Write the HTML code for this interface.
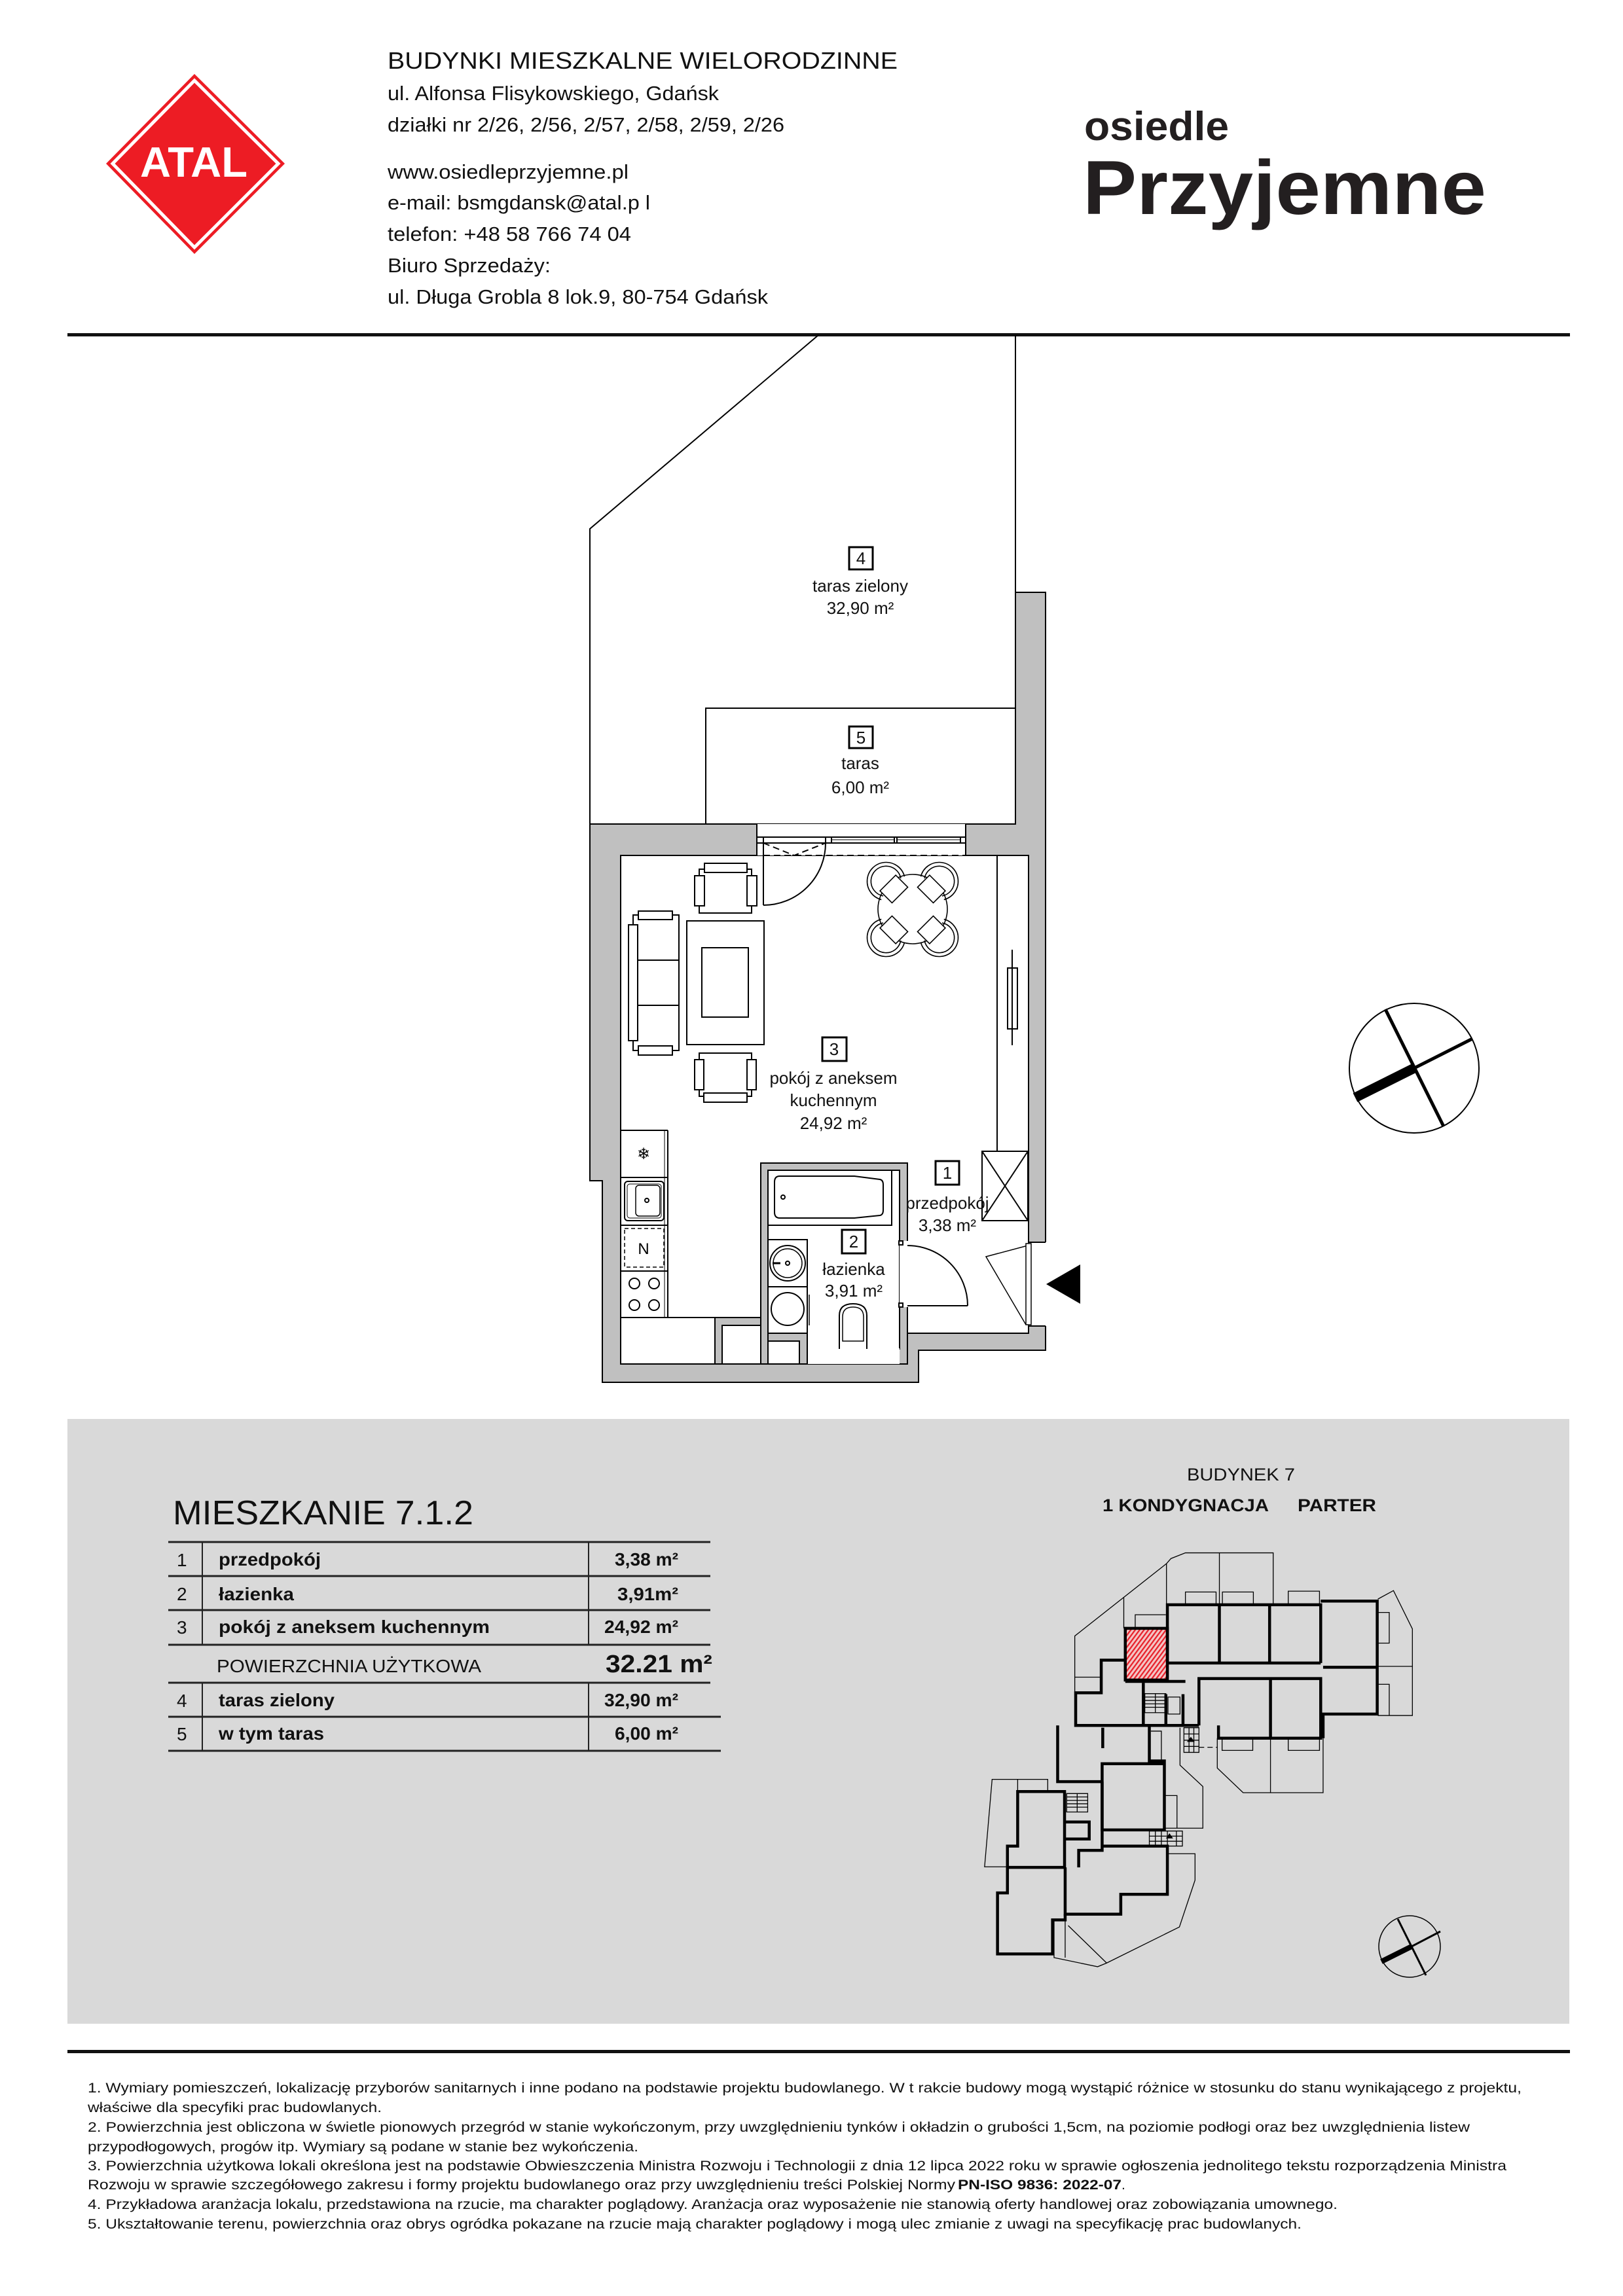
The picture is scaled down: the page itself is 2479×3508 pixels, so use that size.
<!DOCTYPE html>
<html><head><meta charset="utf-8"><style>html,body{margin:0;padding:0;background:#fff}svg{display:block}</style></head>
<body>
<svg xmlns="http://www.w3.org/2000/svg" width="2479" height="3508" viewBox="0 0 2479 3508" font-family="'Liberation Sans', Arial, sans-serif">
<defs>
<pattern id="hatch" patternUnits="userSpaceOnUse" width="12" height="12" patternTransform="rotate(35)">
<rect width="12" height="12" fill="#f3c6c6"/><rect width="5" height="12" fill="#e8202a"/>
</pattern>
</defs>
<rect width="2479" height="3508" fill="#fff"/>

<!-- ATAL logo -->
<polygon points="297,113 435,250 297,388 162,250" fill="#ed1c24"/>
<polygon points="297,123 425,250 297,378 172,250" fill="none" stroke="#fff" stroke-width="5"/>
<text x="296" y="270" text-anchor="middle" font-size="65" font-weight="bold" fill="#fff" textLength="164" lengthAdjust="spacingAndGlyphs">ATAL</text>

<!-- header text -->
<g fill="#111">
<text x="592" y="105" font-size="36" textLength="779" lengthAdjust="spacingAndGlyphs">BUDYNKI MIESZKALNE WIELORODZINNE</text>
<text x="592" y="153" font-size="31" textLength="506" lengthAdjust="spacingAndGlyphs">ul. Alfonsa Flisykowskiego, Gdańsk</text>
<text x="592" y="201" font-size="31" textLength="606" lengthAdjust="spacingAndGlyphs">działki nr 2/26, 2/56, 2/57, 2/58, 2/59, 2/26</text>
<text x="592" y="273" font-size="31" textLength="368" lengthAdjust="spacingAndGlyphs">www.osiedleprzyjemne.pl</text>
<text x="592" y="320" font-size="31" textLength="401" lengthAdjust="spacingAndGlyphs">e-mail: bsmgdansk@atal.p l</text>
<text x="592" y="368" font-size="31" textLength="372" lengthAdjust="spacingAndGlyphs">telefon: +48 58 766 74 04</text>
<text x="592" y="416" font-size="31" textLength="249" lengthAdjust="spacingAndGlyphs">Biuro Sprzedaży:</text>
<text x="592" y="464" font-size="31" textLength="581" lengthAdjust="spacingAndGlyphs">ul. Długa Grobla 8 lok.9, 80-754 Gdańsk</text>
</g>
<text x="1656" y="214" font-size="62" font-weight="bold" fill="#231f20" textLength="221" lengthAdjust="spacingAndGlyphs">osiedle</text>
<text x="1654" y="327" font-size="117" font-weight="bold" fill="#231f20" textLength="616" lengthAdjust="spacingAndGlyphs">Przyjemne</text>

<rect x="103" y="509" width="2295" height="5" fill="#111"/>

<!-- ================= PLAN ================= -->
<g stroke="#000" stroke-width="2" fill="none">
<polyline points="901,1259 901,808 1250,512"/>
<line x1="1551" y1="512" x2="1551" y2="905"/>
<polyline points="1078,1259 1078,1082 1551,1082"/>
</g>
<!-- walls -->
<polygon points="901,1259 1551,1259 1551,905 1597,905 1597,2063 1403,2063 1403,2112 920,2112 920,1804 901,1804" fill="#c0c0c0" stroke="#000" stroke-width="2"/>
<polygon points="948,1307 1571,1307 1571,2037 1386,2037 1386,2084 948,2084" fill="#fff" stroke="#000" stroke-width="2"/>
<rect x="1156" y="1259" width="319" height="48" fill="#fff"/>
<line x1="1156" y1="1259" x2="1156" y2="1307" stroke="#000" stroke-width="2"/>
<line x1="1475" y1="1259" x2="1475" y2="1307" stroke="#000" stroke-width="2"/>
<rect x="1571" y="1898" width="27" height="128" fill="#fff"/>
<line x1="1571" y1="2026" x2="1597" y2="2026" stroke="#000" stroke-width="2"/>
<line x1="1571" y1="1898" x2="1597" y2="1898" stroke="#000" stroke-width="2"/>
<!-- bathroom walls -->
<rect x="1162" y="1777" width="224" height="307" fill="#c0c0c0" stroke="#000" stroke-width="2"/>
<rect x="1173" y="1788" width="201" height="273" fill="#fff" stroke="#000" stroke-width="2"/>
<rect x="1233" y="2060" width="141" height="24" fill="#fff"/>
<rect x="1374" y="1896" width="13" height="101" fill="#fff"/>
<g stroke="#000" stroke-width="2" fill="#fff">
<rect x="1373" y="1896" width="6" height="6"/><rect x="1373" y="1991" width="6" height="6"/>
</g>
<!-- shaft -->
<rect x="1092" y="2013" width="70" height="71" fill="#c0c0c0" stroke="#000" stroke-width="2"/>
<rect x="1103" y="2025" width="59" height="59" fill="#fff" stroke="#000" stroke-width="2"/>
<rect x="1173" y="2037" width="60" height="47" fill="#c0c0c0" stroke="#000" stroke-width="2"/>
<rect x="1173" y="2049" width="48" height="35" fill="#fff" stroke="#000" stroke-width="2"/>

<!-- window -->
<g stroke="#000" stroke-width="2" fill="none">
<line x1="1156" y1="1279" x2="1475" y2="1279"/>
<line x1="1156" y1="1288" x2="1475" y2="1288"/>
<line x1="1270" y1="1283" x2="1366" y2="1283" stroke-width="1"/>
<line x1="1370" y1="1283" x2="1467" y2="1283" stroke-width="1"/>
<line x1="1166" y1="1279" x2="1166" y2="1383"/>
<line x1="1261" y1="1279" x2="1261" y2="1288"/>
<line x1="1270" y1="1279" x2="1270" y2="1288"/>
<line x1="1366" y1="1279" x2="1366" y2="1288"/>
<line x1="1370" y1="1279" x2="1370" y2="1288"/>
<line x1="1467" y1="1279" x2="1467" y2="1288"/>
<path d="M1166,1383 A95,95 0 0 0 1261,1288"/>
<line x1="1166" y1="1307" x2="1475" y2="1307" stroke-dasharray="10,6"/>
<polyline points="1166,1288 1213,1307 1261,1288" stroke-dasharray="10,6"/>
</g>

<!-- furniture -->
<g stroke="#000" stroke-width="2" fill="#fff">
<rect x="1068" y="1328" width="80" height="67"/>
<rect x="1076" y="1319" width="65" height="14"/>
<rect x="1061" y="1338" width="15" height="46"/>
<rect x="1141" y="1338" width="15" height="46"/>
<rect x="967" y="1398" width="70" height="207"/>
<rect x="960" y="1413" width="14" height="177"/>
<rect x="975" y="1392" width="52" height="13"/>
<rect x="975" y="1598" width="52" height="14"/>
<line x1="974" y1="1467" x2="1037" y2="1467"/>
<line x1="974" y1="1536" x2="1037" y2="1536"/>
<rect x="1049" y="1407" width="118" height="189"/>
<rect x="1072" y="1448" width="71" height="106"/>
<rect x="1068" y="1609" width="80" height="66"/>
<rect x="1075" y="1670" width="66" height="14"/>
<rect x="1061" y="1619" width="14" height="46"/>
<rect x="1141" y="1619" width="14" height="46"/>
</g>
<!-- round table + chairs -->
<g stroke="#000" stroke-width="1.6" fill="none">
<circle cx="1394" cy="1389" r="53"/>
<g transform="translate(1354,1347) rotate(45)"><path d="M14,-25 A29,29 0 1 0 14,25"/><path d="M12,-19 A23,23 0 1 0 12,19"/><rect x="3" y="-17" width="26" height="34" fill="#fff"/></g>
<g transform="translate(1434,1347) rotate(135)"><path d="M14,-25 A29,29 0 1 0 14,25"/><path d="M12,-19 A23,23 0 1 0 12,19"/><rect x="3" y="-17" width="26" height="34" fill="#fff"/></g>
<g transform="translate(1434,1432) rotate(225)"><path d="M14,-25 A29,29 0 1 0 14,25"/><path d="M12,-19 A23,23 0 1 0 12,19"/><rect x="3" y="-17" width="26" height="34" fill="#fff"/></g>
<g transform="translate(1354,1432) rotate(315)"><path d="M14,-25 A29,29 0 1 0 14,25"/><path d="M12,-19 A23,23 0 1 0 12,19"/><rect x="3" y="-17" width="26" height="34" fill="#fff"/></g>
</g>
<!-- wardrobe, closet -->
<g stroke="#000" stroke-width="2" fill="none">
<line x1="1523" y1="1307" x2="1523" y2="1759"/>
<rect x="1539" y="1479" width="15" height="93" fill="#fff"/>
<line x1="1546" y1="1451" x2="1546" y2="1597"/>
<rect x="1500" y="1759" width="70" height="106"/>
<line x1="1500" y1="1759" x2="1570" y2="1865"/>
<line x1="1570" y1="1759" x2="1500" y2="1865"/>
</g>
<!-- kitchen -->
<g stroke="#000" stroke-width="2" fill="none">
<line x1="1020" y1="1727" x2="1020" y2="2013"/>
<line x1="1015" y1="1727" x2="1015" y2="2013" stroke-width="1"/>
<line x1="948" y1="1727" x2="1020" y2="1727"/>
<line x1="948" y1="1799" x2="1020" y2="1799"/>
<line x1="948" y1="1872" x2="1020" y2="1872"/>
<line x1="948" y1="1942" x2="1020" y2="1942"/>
<line x1="948" y1="2013" x2="1020" y2="2013"/>
<line x1="948" y1="2013" x2="1092" y2="2013"/>
<rect x="954" y="1805" width="60" height="60" rx="5"/>
<rect x="958" y="1809" width="52" height="52" rx="4" stroke-width="1"/>
<rect x="971" y="1811" width="37" height="47" rx="5" stroke-width="1.5"/>
<circle cx="988" cy="1834" r="3"/>
<rect x="954" y="1877" width="60" height="59" stroke-dasharray="6,4" stroke-width="1.5"/>
<circle cx="969" cy="1961" r="8"/><circle cx="999" cy="1961" r="8"/>
<circle cx="969" cy="1994" r="8"/><circle cx="999" cy="1994" r="8"/>
</g>
<text x="983" y="1771" font-size="24" text-anchor="middle">❄</text>
<text x="983" y="1916" font-size="24" text-anchor="middle">N</text>
<!-- bathroom fixtures -->
<g stroke="#000" stroke-width="2" fill="none">
<rect x="1173" y="1788" width="189" height="84"/>
<path d="M1191,1797 L1305,1797 L1344,1802 Q1349,1803 1349,1810 L1349,1849 Q1349,1856 1344,1857 L1305,1861 L1191,1861 Q1183,1861 1183,1852 L1183,1806 Q1183,1797 1191,1797 Z"/>
<circle cx="1196" cy="1829" r="3"/>
<rect x="1173" y="1894" width="60" height="72"/>
<circle cx="1203" cy="1930" r="27"/>
<circle cx="1203" cy="1930" r="22" stroke-width="1.5"/>
<circle cx="1203" cy="1930" r="3"/>
<line x1="1180" y1="1930" x2="1192" y2="1930" stroke-width="3"/>
<rect x="1173" y="1966" width="60" height="71"/>
<circle cx="1203" cy="2000" r="25"/>
<line x1="1236" y1="1978" x2="1236" y2="2025" stroke-width="1.5"/>
<path d="M1282,2061 L1282,2010 Q1282,1992 1303,1992 Q1324,1992 1324,2010 L1324,2061"/>
<path d="M1287,2049 L1287,2012 Q1287,1997 1303,1997 Q1319,1997 1319,2012 L1319,2049 Z" stroke-width="1.5"/>
<path d="M1386,1903 A92,92 0 0 1 1478,1995"/>
<line x1="1386" y1="1995" x2="1478" y2="1995"/>
<polyline points="1570,1903 1506,1920 1567,2024" stroke-width="1.5"/>
<rect x="1567" y="1900" width="8" height="124" fill="#fff" stroke-width="1.5"/>
</g>

<!-- plan labels -->
<g font-size="26" text-anchor="middle" fill="#111">
<rect x="1297" y="836" width="36" height="34" fill="none" stroke="#000" stroke-width="3"/>
<text x="1315" y="862">4</text>
<text x="1314" y="904">taras zielony</text>
<text x="1314" y="938">32,90 m²</text>
<rect x="1297" y="1110" width="36" height="33" fill="none" stroke="#000" stroke-width="3"/>
<text x="1315" y="1136">5</text>
<text x="1314" y="1175">taras</text>
<text x="1314" y="1212">6,00 m²</text>
<rect x="1256" y="1585" width="37" height="36" fill="none" stroke="#000" stroke-width="3"/>
<text x="1274" y="1612">3</text>
<text x="1273" y="1656">pokój z aneksem</text>
<text x="1273" y="1690">kuchennym</text>
<text x="1273" y="1725">24,92 m²</text>
<rect x="1429" y="1774" width="36" height="36" fill="#fff" stroke="#000" stroke-width="3"/>
<text x="1447" y="1801">1</text>
<text x="1447" y="1847">przedpokój</text>
<text x="1447" y="1881">3,38 m²</text>
<rect x="1286" y="1879" width="36" height="36" fill="#fff" stroke="#000" stroke-width="3"/>
<text x="1304" y="1906">2</text>
<text x="1304" y="1948">łazienka</text>
<text x="1304" y="1981">3,91 m²</text>
</g>

<polygon points="1598,1962 1650,1932 1650,1992" fill="#000"/>

<!-- big compass -->
<circle cx="2160" cy="1632" r="99" fill="none" stroke="#000" stroke-width="2"/>
<line x1="2116" y1="1542" x2="2205" y2="1721" stroke="#000" stroke-width="5"/>
<line x1="2160" y1="1632" x2="2249" y2="1587" stroke="#000" stroke-width="5"/>
<line x1="2070" y1="1677" x2="2160" y2="1632" stroke="#000" stroke-width="15"/>

<!-- ================= INFO PANEL ================= -->
<rect x="103" y="2168" width="2294" height="924" fill="#d9d9d9"/>
<text x="264" y="2329" font-size="52" fill="#111" textLength="459" lengthAdjust="spacingAndGlyphs">MIESZKANIE 7.1.2</text>
<g stroke="#222" stroke-width="3">
<line x1="257" y1="2356" x2="1085" y2="2356"/>
<line x1="257" y1="2408" x2="1085" y2="2408"/>
<line x1="257" y1="2460" x2="1085" y2="2460"/>
<line x1="257" y1="2513" x2="1085" y2="2513"/>
<line x1="257" y1="2571" x2="1085" y2="2571"/>
<line x1="257" y1="2623" x2="1101" y2="2623"/>
<line x1="257" y1="2675" x2="1101" y2="2675"/>
<line x1="309" y1="2356" x2="309" y2="2513" stroke-width="2"/>
<line x1="899" y1="2356" x2="899" y2="2513" stroke-width="2"/>
<line x1="309" y1="2571" x2="309" y2="2675" stroke-width="2"/>
<line x1="899" y1="2571" x2="899" y2="2675" stroke-width="2"/>
</g>
<g font-size="28" fill="#111">
<text x="270" y="2393">1</text><text x="270" y="2445">2</text><text x="270" y="2496">3</text>
<text x="270" y="2608">4</text><text x="270" y="2659">5</text>
</g>
<g font-size="28" font-weight="bold" fill="#111">
<text x="334" y="2392" textLength="156" lengthAdjust="spacingAndGlyphs">przedpokój</text>
<text x="334" y="2445" textLength="115" lengthAdjust="spacingAndGlyphs">łazienka</text>
<text x="334" y="2495" textLength="414" lengthAdjust="spacingAndGlyphs">pokój  z aneksem kuchennym</text>
<text x="334" y="2607" textLength="177" lengthAdjust="spacingAndGlyphs">taras zielony</text>
<text x="334" y="2658" textLength="161" lengthAdjust="spacingAndGlyphs">w tym taras</text>
<text x="939" y="2392" textLength="97" lengthAdjust="spacingAndGlyphs">3,38 m²</text>
<text x="943" y="2445" textLength="93" lengthAdjust="spacingAndGlyphs">3,91m²</text>
<text x="923" y="2495" textLength="113" lengthAdjust="spacingAndGlyphs">24,92 m²</text>
<text x="923" y="2607" textLength="113" lengthAdjust="spacingAndGlyphs">32,90 m²</text>
<text x="939" y="2658" textLength="97" lengthAdjust="spacingAndGlyphs">6,00 m²</text>
</g>
<text x="331" y="2555" font-size="28" fill="#111" textLength="404" lengthAdjust="spacingAndGlyphs">POWIERZCHNIA UŻYTKOWA</text>
<text x="925" y="2555" font-size="38" font-weight="bold" fill="#111" textLength="163" lengthAdjust="spacingAndGlyphs">32.21 m²</text>

<text x="1813" y="2262" font-size="27" fill="#111" textLength="165" lengthAdjust="spacingAndGlyphs">BUDYNEK 7</text>
<text x="1684" y="2309" font-size="27" font-weight="bold" fill="#111" textLength="254" lengthAdjust="spacingAndGlyphs">1 KONDYGNACJA</text>
<text x="1982" y="2309" font-size="27" font-weight="bold" fill="#111" textLength="120" lengthAdjust="spacingAndGlyphs">PARTER</text>

<!-- site plan -->
<g transform="translate(1480,2350) scale(0.4592,0.4337)" fill="none" stroke="#000">
<g stroke-width="1.3">
<polyline vector-effect="non-scaling-stroke" points="352,545 352,345 657,90 672,72 720,52 1012,52 1012,235"/>
<line vector-effect="non-scaling-stroke" x1="833" y1="52" x2="833" y2="235"/>
<line vector-effect="non-scaling-stroke" x1="657" y1="90" x2="657" y2="235"/>
<line vector-effect="non-scaling-stroke" x1="515" y1="210" x2="515" y2="318"/>
<polyline vector-effect="non-scaling-stroke" points="352,490 437,490"/>
<polyline vector-effect="non-scaling-stroke" points="553,318 553,270 655,270"/>
<polyline vector-effect="non-scaling-stroke" points="720,235 720,190 822,190 822,235"/>
<polyline vector-effect="non-scaling-stroke" points="843,235 843,190 946,190 946,235"/>
<polyline vector-effect="non-scaling-stroke" points="1062,235 1062,187 1166,187 1166,232"/>
<polyline vector-effect="non-scaling-stroke" points="1360,215 1412,185 1475,320 1475,625 1360,625"/>
<line vector-effect="non-scaling-stroke" x1="1360" y1="452" x2="1475" y2="452"/>
<polyline vector-effect="non-scaling-stroke" points="1360,262 1398,262 1398,370 1360,370"/>
<polyline vector-effect="non-scaling-stroke" points="1360,515 1398,515 1398,625"/>
<polyline vector-effect="non-scaling-stroke" points="826,705 826,810 912,897 1178,897 1178,705"/>
<line vector-effect="non-scaling-stroke" x1="1003" y1="705" x2="1003" y2="897"/>
<polyline vector-effect="non-scaling-stroke" points="842,705 842,748 944,748 944,705"/>
<polyline vector-effect="non-scaling-stroke" points="1062,705 1062,748 1166,748 1166,705"/>
<polyline vector-effect="non-scaling-stroke" points="702,668 702,800 778,875 778,1022 652,1022"/>
<polyline vector-effect="non-scaling-stroke" points="652,907 692,907 692,1022"/>
<polyline vector-effect="non-scaling-stroke" points="605,680 640,680 640,785"/>
<polyline vector-effect="non-scaling-stroke" points="660,1112 752,1112 752,1205 700,1370 458,1497 428,1510 283,1478 283,1345"/>
<line vector-effect="non-scaling-stroke" x1="330" y1="1365" x2="458" y2="1497"/>
<line vector-effect="non-scaling-stroke" x1="320" y1="1345" x2="320" y2="1478"/>
<polyline vector-effect="non-scaling-stroke" points="162,893 162,850 77,850 52,1158 128,1158"/>
<polyline vector-effect="non-scaling-stroke" points="162,850 262,850 262,893"/>
<line vector-effect="non-scaling-stroke" x1="765" y1="737" x2="826" y2="737" stroke-dasharray="8,5"/>
<rect vector-effect="non-scaling-stroke" x="715" y="668" width="50" height="87"/>
<path vector-effect="non-scaling-stroke" d="M715,690 H765 M715,712 H765 M715,734 H765 M732,668 V755 M748,668 V755"/>
<rect vector-effect="non-scaling-stroke" x="600" y="1032" width="110" height="53"/>
<path vector-effect="non-scaling-stroke" d="M600,1050 H710 M600,1068 H710 M620,1032 V1085 M640,1032 V1085 M660,1032 V1085 M690,1032 V1085"/>
<rect vector-effect="non-scaling-stroke" x="585" y="548" width="70" height="67"/>
<path vector-effect="non-scaling-stroke" d="M585,560 H655 M585,572 H655 M585,584 H655 M585,596 H655 M620,548 V615"/>
<rect vector-effect="non-scaling-stroke" x="325" y="900" width="70" height="65"/>
<path vector-effect="non-scaling-stroke" d="M325,912 H395 M325,924 H395 M325,936 H395 M325,948 H395 M360,900 V965"/>
<rect vector-effect="non-scaling-stroke" x="662" y="560" width="40" height="60"/>
</g>
<rect x="520" y="318" width="140" height="182" fill="url(#hatch)" stroke="none"/>
<g stroke-width="4.5">
<rect vector-effect="non-scaling-stroke" x="520" y="318" width="140" height="182"/>
<polyline vector-effect="non-scaling-stroke" points="660,440 660,235 1170,235 1170,440"/>
<line vector-effect="non-scaling-stroke" x1="660" y1="440" x2="1170" y2="440"/>
<line vector-effect="non-scaling-stroke" x1="833" y1="235" x2="833" y2="440"/>
<line vector-effect="non-scaling-stroke" x1="1000" y1="235" x2="1000" y2="440"/>
<polyline vector-effect="non-scaling-stroke" points="765,660 765,495 1170,495 1170,705 830,705 830,660"/>
<line vector-effect="non-scaling-stroke" x1="1003" y1="495" x2="1003" y2="705"/>
<polyline vector-effect="non-scaling-stroke" points="1170,222 1358,222 1358,620 1178,620 1178,705"/>
<line vector-effect="non-scaling-stroke" x1="1178" y1="455" x2="1358" y2="455"/>
<polyline vector-effect="non-scaling-stroke" points="520,430 440,430 440,545 355,545 355,660 765,660"/>
<line vector-effect="non-scaling-stroke" x1="580" y1="510" x2="580" y2="660"/>
<line vector-effect="non-scaling-stroke" x1="655" y1="550" x2="655" y2="660"/>
<line vector-effect="non-scaling-stroke" x1="712" y1="550" x2="712" y2="660"/>
<line vector-effect="non-scaling-stroke" x1="520" y1="505" x2="720" y2="505"/>
<polyline vector-effect="non-scaling-stroke" points="295,660 295,858 440,858"/>
<polyline vector-effect="non-scaling-stroke" points="600,660 600,785 650,785 650,1028 443,1028 443,795 650,795"/>
<polyline vector-effect="non-scaling-stroke" points="443,858 443,1100 365,1100 365,1160"/>
<polyline vector-effect="non-scaling-stroke" points="445,1085 660,1085 660,1255 505,1255 505,1325 320,1325 320,1160"/>
<line vector-effect="non-scaling-stroke" x1="445" y1="668" x2="445" y2="740"/>
<polygon vector-effect="non-scaling-stroke" points="162,893 318,893 318,1160 128,1160 128,1085 162,1085"/>
<polyline vector-effect="non-scaling-stroke" points="128,1160 128,1250 95,1250 95,1465 278,1465 278,1345 320,1345 320,1325"/>
<polyline vector-effect="non-scaling-stroke" points="318,1000 400,1000 400,1060 318,1060"/>
</g>
<polygon points="738,700 725,718 751,718" fill="#000" stroke="none"/>
<polygon points="667,1040 655,1058 679,1058" fill="#000" stroke="none"/>
</g>
<!-- small compass -->
<circle cx="2153" cy="2974" r="47" fill="none" stroke="#000" stroke-width="1.5"/>
<line x1="2135" y1="2932" x2="2178" y2="3018" stroke="#000" stroke-width="3"/>
<line x1="2156" y1="2974" x2="2200" y2="2951" stroke="#000" stroke-width="3"/>
<line x1="2110" y1="2997" x2="2156" y2="2974" stroke="#000" stroke-width="8"/>

<rect x="103" y="3132" width="2295" height="5" fill="#111"/>

<!-- footnotes -->
<g font-size="21" fill="#111">
<text x="134" y="3197" textLength="2190" lengthAdjust="spacingAndGlyphs">1.  Wymiary pomieszczeń, lokalizację przyborów sanitarnych i inne podano na podstawie projektu budowlanego. W t  rakcie budowy mogą wystąpić różnice w stosunku do  stanu wynikającego z projektu,</text>
<text x="134" y="3227" textLength="449" lengthAdjust="spacingAndGlyphs">właściwe dla specyfiki prac budowlanych.</text>
<text x="134" y="3257" textLength="2111" lengthAdjust="spacingAndGlyphs">2.  Powierzchnia jest obliczona w świetle pionowych przegród w stanie wykończonym, przy uwzględnieniu tynków i okładzin o grubości 1,5cm, na poziomie podłogi    oraz bez uwzględnienia listew</text>
<text x="134" y="3287" textLength="841" lengthAdjust="spacingAndGlyphs">przypodłogowych, progów itp. Wymiary są podane w stanie bez wykończenia.</text>
<text x="134" y="3316" textLength="2167" lengthAdjust="spacingAndGlyphs">3.  Powierzchnia użytkowa lokali określona jest na podstawie  Obwieszczenia Ministra Rozwoju i Technologii z dnia 12 lipca 2022 roku w sprawie ogłoszenia jednolitego tekstu rozporządzenia Ministra</text>
<text x="134" y="3345" textLength="1325" lengthAdjust="spacingAndGlyphs">Rozwoju w sprawie szczegółowego zakresu i formy projektu budowlanego  oraz przy uwzględnieniu treści Polskiej Normy</text>
<text x="1463" y="3345" font-weight="bold" textLength="250" lengthAdjust="spacingAndGlyphs">PN-ISO 9836: 2022-07</text>
<text x="1713" y="3345">.</text>
<text x="134" y="3375" textLength="1909" lengthAdjust="spacingAndGlyphs">4.  Przykładowa aranżacja lokalu, przedstawiona na rzucie, ma charakter poglądowy. Aranżacja oraz wyposażenie nie stanowią oferty handlowej oraz zobowiązania umownego.</text>
<text x="134" y="3405" textLength="1854" lengthAdjust="spacingAndGlyphs">5.  Ukształtowanie terenu, powierzchnia oraz obrys ogródka pokazane na rzucie mają charakter poglądowy i mogą ulec zmianie z uwagi na specyfikację prac budowlanych.</text>
</g>
</svg>
</body></html>
